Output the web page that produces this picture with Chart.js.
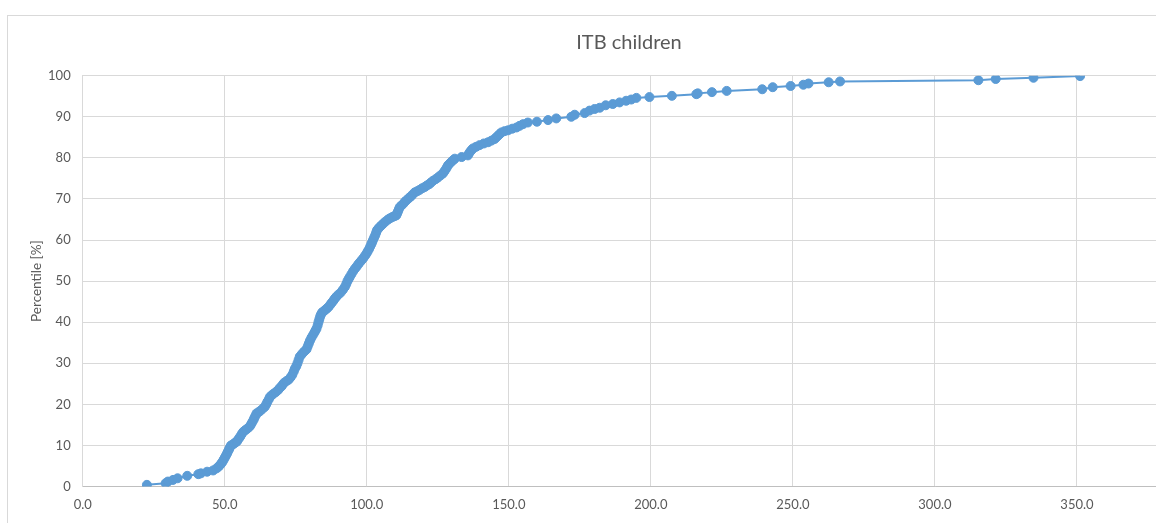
<!DOCTYPE html>
<html>
<head>
<meta charset="utf-8">
<script src="https://cdn.jsdelivr.net/npm/chart.js@4.4.1/dist/chart.umd.min.js"></script>
<style>
  html, body { margin: 0; padding: 0; background: #fff; overflow: hidden; width: 1156px; height: 523px; }
  #frame { position: absolute; left: 7px; top: 15px; border: 1px solid #d9d9d9; background: #fff; width: 1239px; height: 540px; }
  canvas { display: block; }
</style>
</head>
<body>
<div id="frame"><canvas id="c" width="1239" height="540"></canvas></div>
<script>
const chartTitle = "ITB children";
const yAxisTitle = "Percentile [%]";

// x values (ITB value)
const xValues = [
  22.6, 29.2, 30.0, 31.8, 33.4, 36.8, 40.7, 41.6, 43.8, 45.9,
  47.1, 47.8, 48.3, 48.8, 49.2, 49.6, 50.0, 50.4, 50.8, 51.1,
  51.5, 51.8, 52.2, 53.0, 53.5, 54.2, 54.5, 55.0, 55.5, 56.0,
  56.5, 57.2, 57.8, 58.5, 59.0, 59.4, 59.8, 60.2, 60.5, 60.9,
  61.2, 61.9, 62.5, 63.3, 64.1, 64.6, 65.0, 65.5, 65.9, 66.5,
  67.2, 68.0, 68.8, 69.4, 70.0, 70.5, 71.0, 71.8, 72.5, 73.2,
  73.8, 74.3, 74.7, 75.2, 75.6, 76.0, 76.4, 77.0, 77.6, 78.2,
  78.8, 79.2, 79.6, 80.0, 80.5, 81.0, 81.5, 81.9, 82.3, 82.7,
  83.0, 83.3, 83.6, 83.9, 84.3, 84.9, 85.4, 85.9, 86.4, 87.0,
  87.5, 88.0, 88.4, 88.8, 89.3, 90.0, 90.8, 91.6, 92.3, 92.8,
  93.2, 93.6, 94.0, 94.6, 95.2, 95.8, 96.4, 97.0, 97.6, 98.2,
  98.8, 99.4, 99.9, 100.3, 100.8, 101.2, 101.6, 101.9, 102.2, 102.6,
  103.0, 103.3, 103.6, 104.1, 104.6, 105.2, 105.8, 106.6, 107.5, 108.2,
  109.0, 109.7, 110.4, 110.7, 111.0, 111.3, 111.6, 112.2, 112.8, 113.4,
  114.0, 114.8, 115.5, 116.2, 116.9, 117.8, 118.6, 119.5, 120.4, 121.2,
  122.0, 122.6, 123.3, 124.2, 125.0, 125.9, 126.8, 127.3, 127.8, 128.2,
  128.6, 129.3, 130.0, 130.5, 131.0, 133.4, 135.6, 136.0, 136.5, 137.0,
  137.4, 138.5, 139.7, 141.2, 142.7, 143.9, 145.0, 145.6, 146.2, 146.8,
  147.4, 148.5, 149.7, 151.2, 152.7, 153.8, 155.0, 156.7, 159.9, 163.8,
  166.7, 172.0, 173.2, 176.7, 178.4, 180.2, 182.0, 184.1, 186.6, 189.0,
  191.3, 193.1, 194.9, 199.5, 207.4, 216.0, 216.5, 221.5, 226.7, 239.2,
  242.9, 249.2, 253.7, 255.5, 262.6, 266.6, 315.3, 321.4, 334.7, 351.1
];
// percentiles [%]
const percentiles = [
  0.4, 0.8, 1.2, 1.6, 2.0, 2.6, 3.0, 3.2, 3.6, 3.9,
  4.4, 4.8, 5.2, 5.6, 6.0, 6.5, 7.0, 7.5, 8.0, 8.5,
  9.0, 9.5, 10.0, 10.3, 10.6, 10.9, 11.2, 11.7, 12.2, 12.8,
  13.3, 13.7, 14.0, 14.4, 14.8, 15.3, 15.8, 16.3, 16.8, 17.3,
  17.8, 18.1, 18.4, 18.9, 19.4, 20.0, 20.6, 21.2, 21.8, 22.2,
  22.6, 23.0, 23.5, 24.0, 24.4, 24.9, 25.3, 25.7, 26.0, 26.6,
  27.2, 28.0, 28.7, 29.3, 30.0, 30.8, 31.6, 32.1, 32.6, 33.0,
  33.4, 34.1, 34.8, 35.5, 36.2, 36.8, 37.4, 37.9, 38.4, 39.2,
  40.0, 40.7, 41.4, 41.9, 42.4, 42.7, 43.0, 43.3, 43.6, 44.1,
  44.6, 45.0, 45.4, 45.8, 46.2, 46.7, 47.2, 47.9, 48.6, 49.3,
  50.0, 50.5, 51.0, 51.7, 52.4, 53.0, 53.5, 54.1, 54.6, 55.1,
  55.6, 56.2, 56.7, 57.2, 57.8, 58.4, 59.0, 59.5, 60.0, 60.6,
  61.2, 61.8, 62.4, 62.8, 63.2, 63.6, 64.0, 64.5, 65.0, 65.3,
  65.6, 65.8, 66.0, 66.5, 67.0, 67.5, 68.0, 68.4, 68.8, 69.3,
  69.7, 70.2, 70.6, 71.1, 71.6, 71.9, 72.2, 72.6, 72.9, 73.3,
  73.6, 74.0, 74.4, 74.8, 75.2, 75.7, 76.2, 76.7, 77.2, 77.7,
  78.2, 78.7, 79.2, 79.5, 79.8, 80.2, 80.6, 81.1, 81.6, 82.0,
  82.3, 82.7, 83.1, 83.5, 83.8, 84.2, 84.6, 85.0, 85.4, 85.8,
  86.2, 86.5, 86.7, 87.1, 87.4, 87.8, 88.2, 88.6, 88.8, 89.2,
  89.6, 90.0, 90.5, 90.9, 91.5, 91.9, 92.2, 92.8, 93.1, 93.5,
  93.9, 94.2, 94.6, 94.8, 95.1, 95.5, 95.7, 96.0, 96.3, 96.7,
  97.2, 97.5, 97.8, 98.1, 98.4, 98.6, 98.9, 99.2, 99.5, 99.9
];

const xTickValues = [0, 50, 100, 150, 200, 250, 300, 350, 400];
const yTickValues = [0, 10, 20, 30, 40, 50, 60, 70, 80, 90, 100];

const points = xValues.map((x, i) => ({ x: x, y: percentiles[i] }));

const textColor = "#595959";
const gridColor = "#d9d9d9";
const seriesColor = "#5b9bd5";
const fontFamily = "Lato, 'Open Sans', sans-serif";

new Chart(document.getElementById("c"), {
  type: "scatter",
  data: {
    datasets: [{
      label: chartTitle,
      data: points,
      showLine: true,
      borderColor: seriesColor,
      backgroundColor: seriesColor,
      borderWidth: 2,
      pointRadius: 4.5,
      pointBorderWidth: 1,
      pointBackgroundColor: seriesColor,
      pointBorderColor: seriesColor,
      tension: 0
    }]
  },
  options: {
    responsive: false,
    animation: false,
    layout: { padding: { left: 31, right: 28, top: 0, bottom: 0 } },
    plugins: {
      legend: { display: false },
      tooltip: { enabled: false },
      title: {
        display: true,
        text: chartTitle,
        color: textColor,
        font: { family: fontFamily, size: 20, weight: "normal", lineHeight: 1.2 },
        padding: { top: 15, bottom: 20.7 }
      }
    },
    scales: {
      x: {
        type: "linear",
        min: xTickValues[0],
        max: xTickValues[xTickValues.length - 1],
        afterBuildTicks: (scale) => { scale.ticks = xTickValues.map(v => ({ value: v })); },
        afterFit: (scale) => { scale.height = 69.5; },
        ticks: {
          color: textColor,
          font: { family: fontFamily, size: 13, lineHeight: 1.2 },
          padding: 11,
          maxRotation: 0,
          autoSkip: false,
          callback: (v) => Number(v).toFixed(1)
        },
        grid: { color: gridColor, drawTicks: false, lineWidth: 1 },
        border: { color: "#bfbfbf", width: 1 }
      },
      y: {
        type: "linear",
        min: yTickValues[0],
        max: yTickValues[yTickValues.length - 1],
        afterBuildTicks: (scale) => { scale.ticks = yTickValues.map(v => ({ value: v })); },
        afterFit: (scale) => { scale.width = 43.7; },
        ticks: {
          color: textColor,
          font: { family: fontFamily, size: 13, lineHeight: 1.2 },
          padding: 12,
          autoSkip: false
        },
        grid: { color: gridColor, drawTicks: false, lineWidth: 1 },
        border: { color: gridColor, width: 1 },
        title: {
          display: true,
          text: yAxisTitle,
          color: textColor,
          font: { family: fontFamily, size: 13.5, lineHeight: 1.2 },
          padding: { top: -10, bottom: 0 }
        }
      }
    }
  }
});
</script>
</body>
</html>
